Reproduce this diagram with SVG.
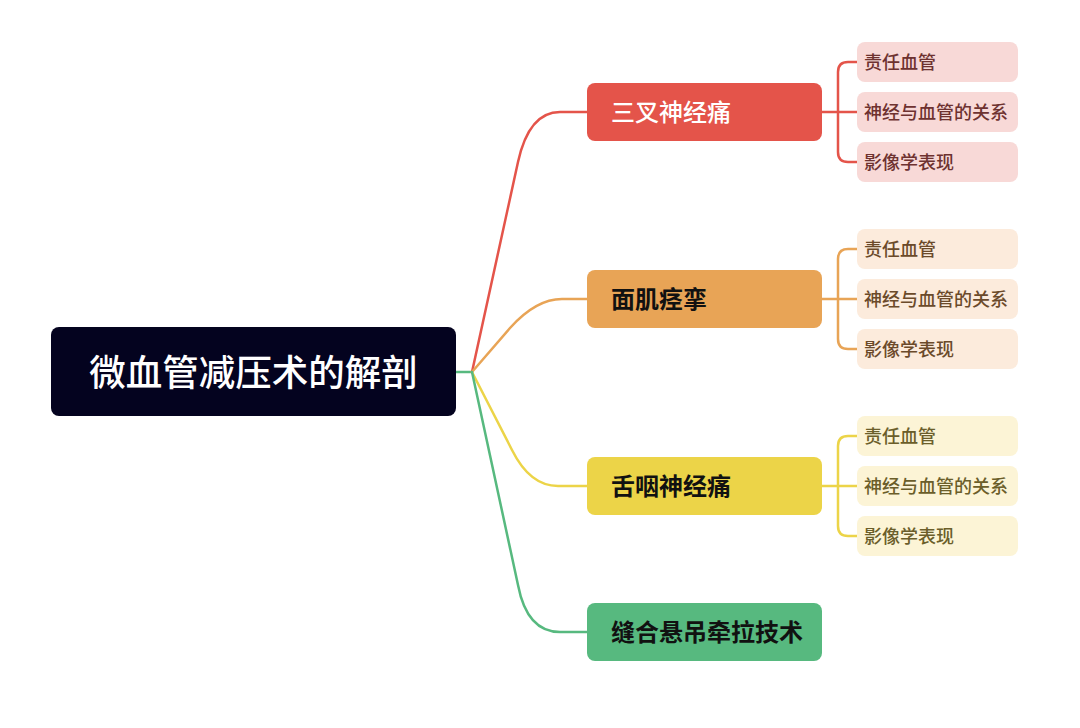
<svg xmlns="http://www.w3.org/2000/svg" width="1080" height="728" viewBox="0 0 1080 728">
<style>
text { font-family: "Noto Sans CJK SC", "Noto Sans", sans-serif; }
.root-t { font-size: 36.5px; fill: #ffffff; font-weight: 500; text-anchor: middle; }
.br-t { font-size: 24px; font-weight: 700; fill: #111111; }
.sub-t { font-size: 18px; font-weight: 500; }
.line { fill: none; stroke-width: 2.5; stroke-linecap: round; stroke-linejoin: round; }
.red { stroke: #e4544a; }
.org { stroke: #e8a456; }
.yel { stroke: #ecd448; }
.grn { stroke: #57b97f; }
</style>
<rect width="1080" height="728" fill="#ffffff"/>
<g id="connectors">
  <path class="line grn" d="M456,372 L472,372"/>
  <path class="line red" d="M472,372 L518,162 Q529,112 560,112 L587,112"/>
  <path class="line org" d="M472,372 L510,328 Q536,299 562,299 L587,299"/>
  <path class="line yel" d="M472,372 L512,450 Q530,486 558,486 L587,486"/>
  <path class="line grn" d="M472,372 L518,585 Q527,632 560,632 L587,632"/>
  <path class="line red" d="M822,112 L857,112 M857,62 L848,62 Q838,62 838,72 L838,152 Q838,162 848,162 L857,162"/>
  <path class="line org" d="M822,299 L857,299 M857,249 L848,249 Q838,249 838,259 L838,339 Q838,349 848,349 L857,349"/>
  <path class="line yel" d="M822,486 L857,486 M857,436 L848,436 Q838,436 838,446 L838,526 Q838,536 848,536 L857,536"/>
</g>
<g id="root">
  <rect x="51" y="327" width="405" height="89" rx="8" fill="#04031f"/>
  <text class="root-t" x="253.5" y="385.5">微血管减压术的解剖</text>
</g>
<g id="branch-1">
  <rect x="587" y="83" width="235" height="58" rx="8" fill="#e4544a"/>
  <text class="br-t" x="611" y="121" style="fill:#ffffff;font-weight:500">三叉神经痛</text>
</g>
<g id="branch-1-sub-1">
  <rect x="857" y="42" width="161" height="40" rx="8" fill="#f8d9d7"/>
  <text class="sub-t" x="864" y="69" fill="#6e3230">责任血管</text>
</g>
<g id="branch-1-sub-2">
  <rect x="857" y="92" width="161" height="40" rx="8" fill="#f8d9d7"/>
  <text class="sub-t" x="864" y="119" fill="#6e3230">神经与血管的关系</text>
</g>
<g id="branch-1-sub-3">
  <rect x="857" y="142" width="161" height="40" rx="8" fill="#f8d9d7"/>
  <text class="sub-t" x="864" y="169" fill="#6e3230">影像学表现</text>
</g>
<g id="branch-2">
  <rect x="587" y="270" width="235" height="58" rx="8" fill="#e8a456"/>
  <text class="br-t" x="611" y="308">面肌痉挛</text>
</g>
<g id="branch-2-sub-1">
  <rect x="857" y="229" width="161" height="40" rx="8" fill="#fcebdc"/>
  <text class="sub-t" x="864" y="256" fill="#6b4a2a">责任血管</text>
</g>
<g id="branch-2-sub-2">
  <rect x="857" y="279" width="161" height="40" rx="8" fill="#fcebdc"/>
  <text class="sub-t" x="864" y="306" fill="#6b4a2a">神经与血管的关系</text>
</g>
<g id="branch-2-sub-3">
  <rect x="857" y="329" width="161" height="40" rx="8" fill="#fcebdc"/>
  <text class="sub-t" x="864" y="356" fill="#6b4a2a">影像学表现</text>
</g>
<g id="branch-3">
  <rect x="587" y="457" width="235" height="58" rx="8" fill="#ecd448"/>
  <text class="br-t" x="611" y="495">舌咽神经痛</text>
</g>
<g id="branch-3-sub-1">
  <rect x="857" y="416" width="161" height="40" rx="8" fill="#fcf4d6"/>
  <text class="sub-t" x="864" y="443" fill="#6b5e2a">责任血管</text>
</g>
<g id="branch-3-sub-2">
  <rect x="857" y="466" width="161" height="40" rx="8" fill="#fcf4d6"/>
  <text class="sub-t" x="864" y="493" fill="#6b5e2a">神经与血管的关系</text>
</g>
<g id="branch-3-sub-3">
  <rect x="857" y="516" width="161" height="40" rx="8" fill="#fcf4d6"/>
  <text class="sub-t" x="864" y="543" fill="#6b5e2a">影像学表现</text>
</g>
<g id="branch-4">
  <rect x="587" y="603" width="235" height="58" rx="8" fill="#57b97f"/>
  <text class="br-t" x="611" y="641">缝合悬吊牵拉技术</text>
</g>
</svg>
